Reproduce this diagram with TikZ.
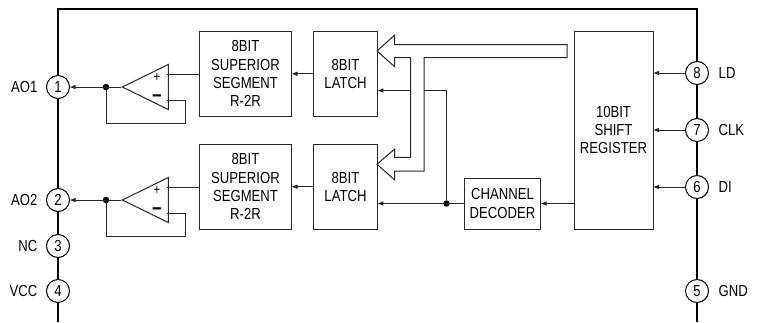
\documentclass[tikz,border=0pt]{standalone}
\usepackage{fontspec}
\setmainfont[FakeStretch=0.82]{Liberation Sans}
\usepackage{tikz}
\usetikzlibrary{arrows.meta, shapes.geometric, positioning, calc}

\begin{document}
\begin{tikzpicture}[
    x=1pt, y=-1pt,
    block/.style={rectangle, draw=black!85, line width=1pt, fill=white, align=center, inner sep=0pt},
    pinnode/.style={circle, draw=black, line width=1pt, fill=white, minimum size=23pt, inner sep=0pt},
    pinname/.style={inner sep=0pt},
    opamp/.style={isosceles triangle, isosceles triangle stretches, shape border rotate=180, draw=black!85, line width=1pt, fill=white, minimum width=45pt, minimum height=46pt, inner sep=0pt, anchor=apex},
    junction/.style={circle, fill=black, minimum size=6.5pt, inner sep=0pt},
    plussign/.style={inner sep=0pt, font=\fontsize{14}{14}\selectfont},
    minussign/.style={inner sep=0pt, font=\fontsize{20}{20}\selectfont\bfseries},
    wire/.style={line width=1pt, draw=black!85},
    sig/.style={wire, -{Triangle[length=5.5pt,width=4pt]}},
    font=\fontsize{16}{18.3}\selectfont]
\useasboundingbox (0,0) rectangle (761,322);
% package outline
\draw[line width=2pt, line join=miter] (58,322) -- (58,8.5) -- (697,8.5) -- (697,322);
% pins
\node[pinnode] (p1) at (58,87) {1};
\node[pinnode] (p2) at (58,200) {2};
\node[pinnode] (p3) at (58,246) {3};
\node[pinnode] (p4) at (58,291) {4};
\node[pinnode] (p8) at (697,73) {8};
\node[pinnode] (p7) at (697,130) {7};
\node[pinnode] (p6) at (697,187) {6};
\node[pinnode] (p5) at (697,291) {5};
\node[pinname, left=8.5pt of p1] (ao1) {AO1};
\node[pinname, left=8.5pt of p2] (ao2) {AO2};
\node[pinname, left=8.5pt of p3] (nc) {NC};
\node[pinname, left=8.5pt of p4] (vcc) {VCC};
\node[pinname, right=9.5pt of p8] (ld) {LD};
\node[pinname, right=9.5pt of p7] (clk) {CLK};
\node[pinname, right=9.5pt of p6] (di) {DI};
\node[pinname, right=9.5pt of p5] (gnd) {GND};
% blocks
\node[block, minimum width=92pt, minimum height=84.5pt] (dac1) at (245.5,73.75) {8BIT\\SUPERIOR\\SEGMENT\\R-2R};
\node[block, minimum width=92pt, minimum height=84.5pt] (dac2) at (245.5,186.75) {8BIT\\SUPERIOR\\SEGMENT\\R-2R};
\node[block, minimum width=63.5pt, minimum height=84.5pt] (lat1) at (345.5,73.75) {8BIT\\LATCH};
\node[block, minimum width=63.5pt, minimum height=84.5pt] (lat2) at (345.5,186.75) {8BIT\\LATCH};
\node[block, minimum width=76pt, minimum height=51pt] (dec) at (502.5,203.5) {CHANNEL\\DECODER};
\node[block, minimum width=79pt, minimum height=198pt] (reg) at (613.5,130) {10BIT\\SHIFT\\REGISTER};
% amplifiers
\node[opamp] (oa1) at (121,87) {};
\node[opamp] (oa2) at (121,200) {};
\node[plussign] (oa1p) at (157,77) {+};
\node[minussign] (oa1m) at (157,99) {−};
\node[plussign] (oa2p) at (157,190) {+};
\node[minussign] (oa2m) at (157,212) {−};
\coordinate (in1p) at (167,74);
\coordinate (in1m) at (167,100.5);
\coordinate (in2p) at (167,187);
\coordinate (in2m) at (167,213.5);
\node[junction] (j1) at (106,87) {};
\node[junction] (j2) at (106,200) {};
\node[junction] (j3) at (446.5,203.5) {};
\coordinate (fb1) at (185,123);
\coordinate (fb2) at (185,236);
\coordinate (busa) at (424,90.5);
\coordinate (busb) at (410.5,90.5);
% eight bit bus
\draw[wire, line join=miter] (377,51) -- (394.7,35) -- (394.7,44.5) -- (567,44.5) -- (567,57.7) -- (424,57.7) -- (424,171) -- (394.7,171) -- (394.7,180) -- (377,164.3) -- (394.7,149) -- (394.7,157.3) -- (410.5,157.3) -- (410.5,57.7) -- (394.7,57.7) -- (394.7,66.7) -- cycle;
% signals
\draw[sig] (oa1.apex) -- (p1);
\draw[sig] (oa2.apex) -- (p2);
\draw[wire] (dac1.west |- in1p) -- (in1p);
\draw[wire] (dac2.west |- in2p) -- (in2p);
\draw[wire] (in1m) -| (fb1) -| (j1);
\draw[wire] (in2m) -| (fb2) -| (j2);
\draw[sig] (lat1) -- (dac1);
\draw[sig] (lat2) -- (dac2);
\draw[sig] (dec.west) -- (lat2.east |- dec.west);
\draw[sig] (reg.west |- dec.east) -- (dec.east);
\draw[wire] (j3) |- (busa);
\draw[sig] (busb) -- (lat1.east |- busb);
\draw[sig] (p8) -- (reg.east |- p8);
\draw[sig] (p7) -- (reg.east |- p7);
\draw[sig] (p6) -- (reg.east |- p6);
\end{tikzpicture}
\end{document}
